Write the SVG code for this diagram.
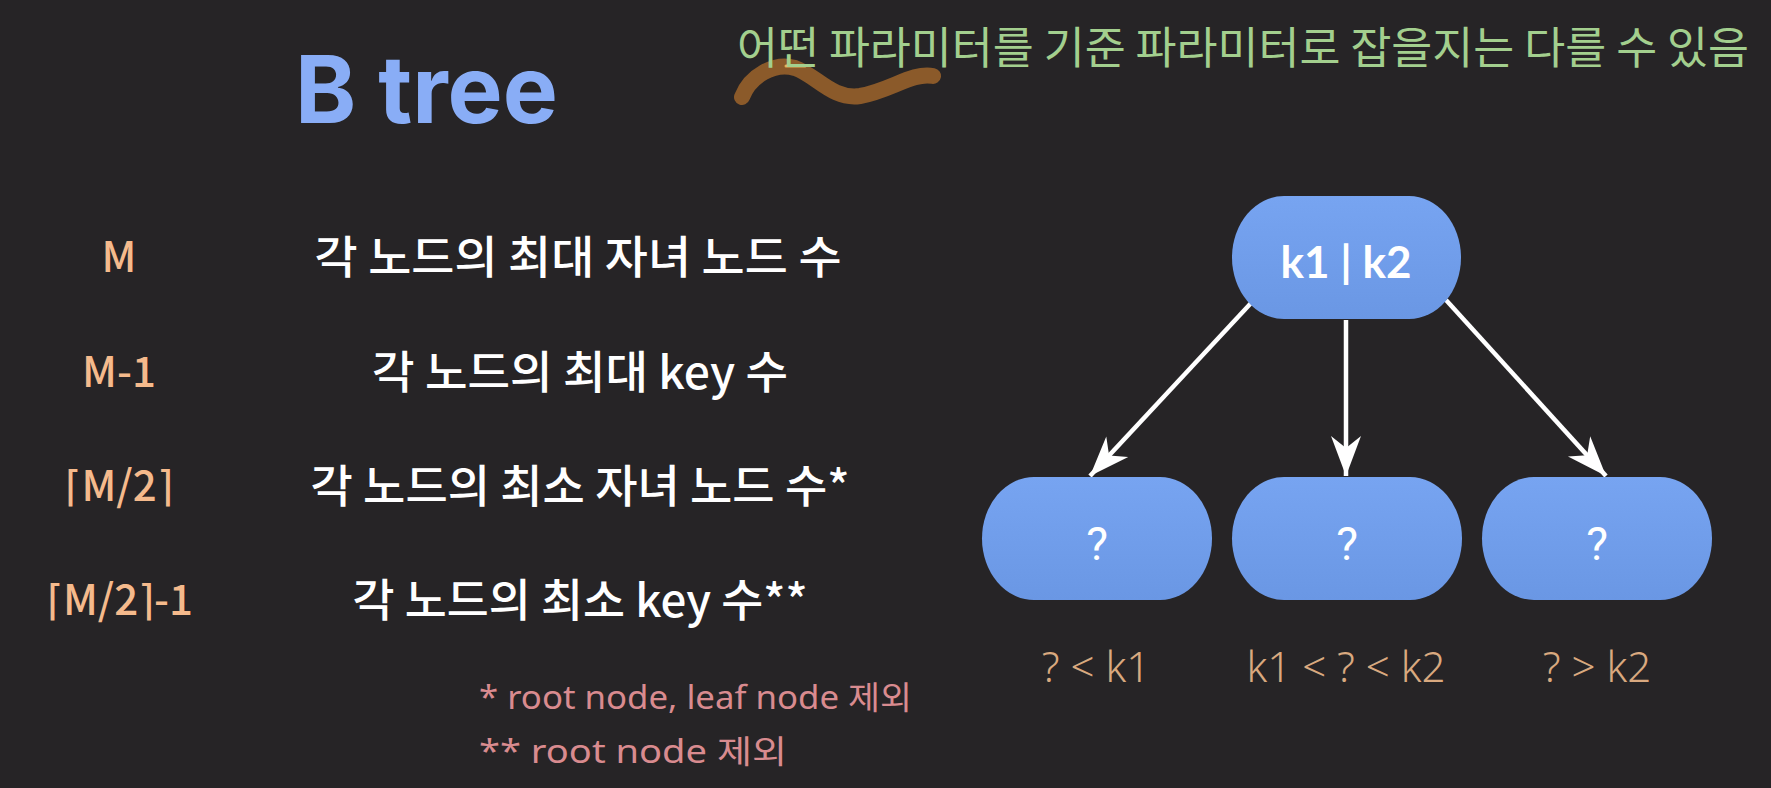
<svg xmlns="http://www.w3.org/2000/svg" width="1771" height="788" viewBox="0 0 1771 788">
<style>
.kr{font-family:"Noto Sans CJK KR","Noto Sans",sans-serif;}
.lbl{font-family:"Noto Sans CJK KR","Lato",sans-serif;font-weight:500;font-size:42px;fill:#f5ba8c;text-anchor:middle;}
.desc{font-family:"Noto Sans CJK KR","Lato",sans-serif;font-weight:500;font-size:45px;fill:#ffffff;text-anchor:middle;}
.node{fill:url(#ng);}
.ntxt{font-family:Roboto,"Noto Sans",sans-serif;font-size:46px;fill:#ffffff;text-anchor:middle;}
.cond{font-family:"Noto Sans",sans-serif;font-weight:300;font-size:42px;fill:#d9a97f;text-anchor:middle;}
.foot{font-family:"Noto Sans","Noto Sans CJK KR",sans-serif;font-size:32px;fill:#d98b8f;}
.edge{stroke:#ffffff;stroke-width:4.5;fill:none;marker-end:url(#ah);}
</style>
<defs>
<linearGradient id="ng" x1="0" y1="0" x2="0" y2="1">
<stop offset="0" stop-color="#77a4f1"/>
<stop offset="1" stop-color="#6a97e4"/>
</linearGradient>
<marker id="ah" markerUnits="userSpaceOnUse" viewBox="-42 -17 44 34" markerWidth="44" markerHeight="34" refX="0" refY="0" orient="auto">
<path d="M0 0 L-40 -15 L-28 0 L-40 15 Z" fill="#ffffff"/>
</marker>
</defs>
<rect width="1771" height="788" fill="#262426"/>

<g id="title">
<text x="295" y="123" font-family="Inter,'Liberation Sans',sans-serif" font-weight="700" font-size="94" fill="#89adf6" textLength="263" lengthAdjust="spacingAndGlyphs">B tree</text>
</g>

<g id="annotation">
<path d="M742 97 C750 76 774 62 795 68 C816 75 832 100 860 96 C890 91 912 72 933 76" stroke="#8b5a2a" stroke-width="16" fill="none" stroke-linecap="round"/>
<path d="M786 66 L805 66" stroke="#e2b25a" stroke-width="3" stroke-linecap="round"/>
<text class="kr" x="737" y="64" font-size="44" fill="#a3cf8e" textLength="1012" lengthAdjust="spacingAndGlyphs">어떤 파라미터를 기준 파라미터로 잡을지는 다를 수 있음</text>
</g>

<g id="row1">
<text class="lbl" x="119" y="272">M</text>
<text class="desc" x="578" y="274" textLength="527" lengthAdjust="spacingAndGlyphs">각 노드의 최대 자녀 노드 수</text>
</g>
<g id="row2">
<text class="lbl" x="119" y="387">M-1</text>
<text class="desc" x="580" y="389" textLength="416" lengthAdjust="spacingAndGlyphs">각 노드의 최대 key 수</text>
</g>
<g id="row3">
<text class="lbl" x="119" y="501">⌈M/2⌉</text>
<text class="desc" x="580" y="503" textLength="539" lengthAdjust="spacingAndGlyphs">각 노드의 최소 자녀 노드 수*</text>
</g>
<g id="row4">
<text class="lbl" x="120" y="615">⌈M/2⌉-1</text>
<text class="desc" x="580" y="617" textLength="455" lengthAdjust="spacingAndGlyphs">각 노드의 최소 key 수**</text>
</g>

<g id="footnotes">
<text class="foot" x="479" y="709" textLength="433" lengthAdjust="spacingAndGlyphs">* root node, leaf node 제외</text>
<text class="foot" x="479" y="763" textLength="308" lengthAdjust="spacingAndGlyphs">** root node 제외</text>
</g>

<g id="connectors">
<path class="edge" d="M1252 302 L1090 476"/>
<path class="edge" d="M1346 320 L1346 476"/>
<path class="edge" d="M1446 300 L1606 476"/>
</g>

<g id="root">
<rect class="node" x="1232" y="196" width="229" height="123" rx="52" ry="61.5"/>
<text x="1346" y="278" font-family="Lato,'Noto Sans',sans-serif" font-weight="700" font-size="44" fill="#ffffff" text-anchor="middle">k1 | k2</text>
</g>
<g id="child1">
<rect class="node" x="982" y="477" width="230" height="123" rx="52" ry="61.5"/>
<text class="ntxt" x="1097" y="560">?</text>
<text class="cond" x="1096" y="682">? &lt; k1</text>
</g>
<g id="child2">
<rect class="node" x="1232" y="477" width="230" height="123" rx="52" ry="61.5"/>
<text class="ntxt" x="1347" y="560">?</text>
<text class="cond" x="1346" y="682">k1 &lt; ? &lt; k2</text>
</g>
<g id="child3">
<rect class="node" x="1482" y="477" width="230" height="123" rx="52" ry="61.5"/>
<text class="ntxt" x="1597" y="560">?</text>
<text class="cond" x="1597" y="682">? &gt; k2</text>
</g>
</svg>
